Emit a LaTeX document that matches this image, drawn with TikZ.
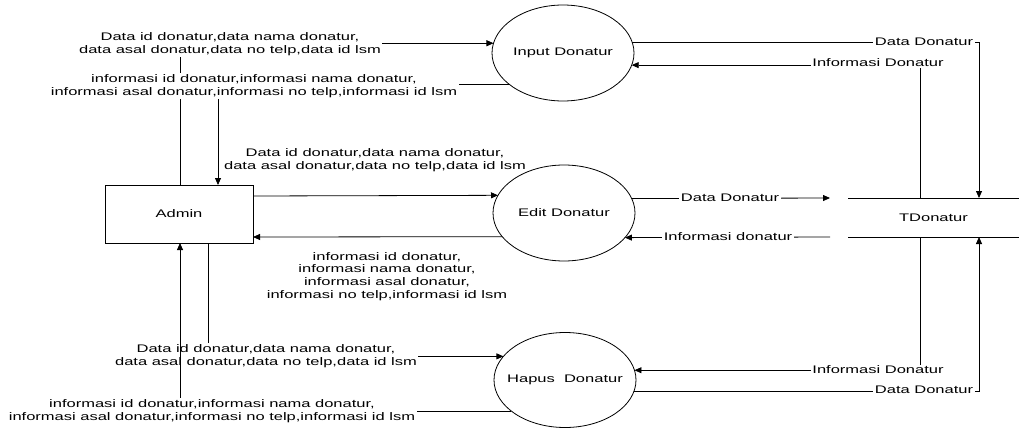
\documentclass[tikz,border=0pt]{standalone}
\usepackage{fontspec}
\setmainfont{Liberation Sans}[FakeStretch=1.5]
\usetikzlibrary{arrows.meta,shapes.geometric}
\begin{document}
\begin{tikzpicture}[x=1pt,y=-1pt,
  every node/.style={font=\fontsize{11}{12.8}\selectfont},
  proc/.style={ellipse,draw,line width=0.8pt,minimum width=142pt,minimum height=96pt,inner sep=0pt,outer sep=0pt},
  ent/.style={rectangle,draw,line width=0.8pt,minimum width=148pt,minimum height=58pt,outer sep=0pt},
  store/.style={rectangle,minimum width=171pt,minimum height=39pt,inner sep=0pt,outer sep=0pt},
  lbl/.style={fill=white,align=center,inner xsep=1.5pt,inner ysep=1pt},
  flow/.style={line width=0.8pt,-{Triangle[length=7pt,width=6pt]}},
  plain/.style={line width=0.8pt}]
\useasboundingbox (0,0) rectangle (1019,428);

% nodes
\node[proc] (input) at (563,53) {Input Donatur};
\node[proc] (edit) at (564,213) {Edit Donatur};
\node[proc,minimum height=95pt,inner xsep=-15pt] (hapus) at (565,380) {Hapus\ \ Donatur};
\node[ent] (admin) at (179,214) {Admin};
\node[store] (tdon) at (933.5,217.5) {TDonatur};
\draw[plain] (tdon.north west) -- (tdon.north east);
\draw[plain] (tdon.south west) -- (tdon.south east);

% helper coordinates
\coordinate (c180) at (180,0);
\coordinate (c208) at (208,0);
\coordinate (c218) at (218,0);
\coordinate (c920) at (920,0);
\coordinate (c979) at (979,0);
\coordinate (r196) at (0,196);
\coordinate (r237) at (0,237);
\coordinate (e1) at (830,198);
\coordinate (e2) at (830,237);

% Admin <-> Input
\draw[flow] (admin.north -| c180) |- (input.172.5);
\draw[flow] (input.211.5) -| (admin.north -| c218);
\node[lbl] (l1) at (230,44) {Data id donatur,data nama donatur,\\data asal donatur,data no telp,data id lsm};
\node[lbl] (l2) at (254,86) {informasi id donatur,informasi nama donatur,\\informasi asal donatur,informasi no telp,informasi id lsm};

% Admin <-> Edit
\draw[flow] (admin.east |- r196) -- (edit.165.6);
\draw[flow] (edit.201.3) -- (admin.east |- r237);
\node[align=center] (l3) at (375,160) {Data id donatur,data nama donatur,\\data asal donatur,data no telp,data id lsm};
\node[align=center] (l4) at (387,276.5) {informasi id donatur,\\informasi nama donatur,\\informasi asal donatur,\\informasi no telp,informasi id lsm};

% Admin <-> Hapus
\draw[flow] (admin.south -| c208) |- (hapus.159.6);
\node[lbl] (l5) at (266,356) {Data id donatur,data nama donatur,\\data asal donatur,data no telp,data id lsm};
\draw[flow] (hapus.210.1) -| (admin.south -| c180);
\node[lbl] (l6) at (212,411) {informasi id donatur,informasi nama donatur,\\informasi asal donatur,informasi no telp,informasi id lsm};

% Input <-> TDonatur
\draw[flow] (input.9.2) -| (tdon.north -| c979);
\draw[flow] (tdon.north -| c920) |- (input.350.8);
\node[lbl] (l7) at (924,42) {Data Donatur};
\node[lbl] (l8) at (878,63) {Informasi Donatur};

% Edit <-> TDonatur
\draw[flow] (edit.12.5) -- (e1);
\draw[flow] (e2) -- (edit.338.7);
\node[lbl] (l9) at (730,198) {Data Donatur};
\node[lbl] (l10) at (728,237) {Informasi donatur};

% Hapus <-> TDonatur
\draw[flow] (tdon.south -| c920) |- (hapus.8.2);
\draw[flow] (hapus.351.8) -| (tdon.south -| c979);
\node[lbl] (l11) at (878,370) {Informasi Donatur};
\node[lbl] (l12) at (924,390) {Data Donatur};
\end{tikzpicture}
\end{document}
